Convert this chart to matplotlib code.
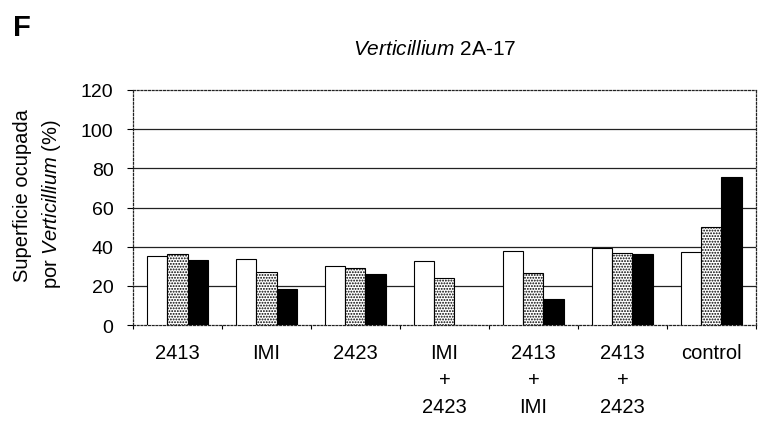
import matplotlib
matplotlib.use('Agg')
import matplotlib.pyplot as plt
import numpy as np

plt.rcParams['font.family'] = ['Liberation Sans', 'DejaVu Sans']
plt.rcParams['mathtext.fontset'] = 'custom'
plt.rcParams['mathtext.it'] = 'Liberation Sans:italic'
plt.rcParams['mathtext.rm'] = 'Liberation Sans'
plt.rcParams['hatch.linewidth'] = 0.9

# data
groups = ['2413', 'IMI', '2423', 'IMI\n+\n2423', '2413\n+\nIMI', '2413\n+\n2423', 'control']
serie_blanca = [35.1, 33.5, 30.3, 32.5, 38.0, 39.2, 37.1]
serie_punteada = [36.1, 27.1, 29.1, 24.2, 26.4, 36.6, 50.0]
serie_negra = [33.0, 18.2, 25.9, 0.0, 13.1, 36.1, 75.6]
yticks = [0, 20, 40, 60, 80, 100, 120]

fig = plt.figure(figsize=(7.63, 4.27), dpi=100)
ax = fig.add_axes([0.1743, 0.2365, 0.8165, 0.5504])

x = np.arange(len(groups))
w = 0.225
ax.bar(x - w, serie_blanca, w, color='white', edgecolor='black', linewidth=0.8, zorder=3)
ax.bar(x, serie_punteada, w, color='white', edgecolor='black', hatch='......', linewidth=0.8, zorder=3)
ax.bar(x + w, serie_negra, w, color='black', edgecolor='black', linewidth=0.8, zorder=3)

ax.set_xlim(-0.5, len(groups) - 0.5)
ax.set_ylim(0, 120)
ax.set_yticks(yticks)
for v in yticks[1:-1]:
    ax.axhline(v, color='#222222', lw=0.9, zorder=1)

for s in ax.spines.values():
    s.set_linestyle((0, (1.5, 1.5)))
    s.set_linewidth(0.9)
    s.set_color('#222222')

ax.set_xticks(np.arange(len(groups) + 1) - 0.5)
ax.set_xticklabels([])
ax.tick_params(axis='x', length=3, width=0.8, direction='out')
ax.tick_params(axis='y', length=4, width=0.8, direction='out', pad=10, labelsize=14)

for i, g in enumerate(groups):
    ax.text(i, -9, g, ha='center', va='top', fontsize=14.5, linespacing=1.55,
            transform=ax.transData, clip_on=False)

fig.text(0.017, 0.967, 'F', fontsize=21, fontweight='bold', va='top', ha='left')
fig.text(0.570, 0.871, r'$\mathit{Verticillium}$ 2A-17', fontsize=15, ha='center', va='baseline')
fig.text(0.0295, 0.543, 'Superficie ocupada', rotation=90, fontsize=14.5, ha='center', va='center')
fig.text(0.068, 0.522, r'por $\mathit{Verticillium}$ (%)', rotation=90, fontsize=14.5,
         ha='center', va='center')

fig.savefig('out.png', dpi=100)
